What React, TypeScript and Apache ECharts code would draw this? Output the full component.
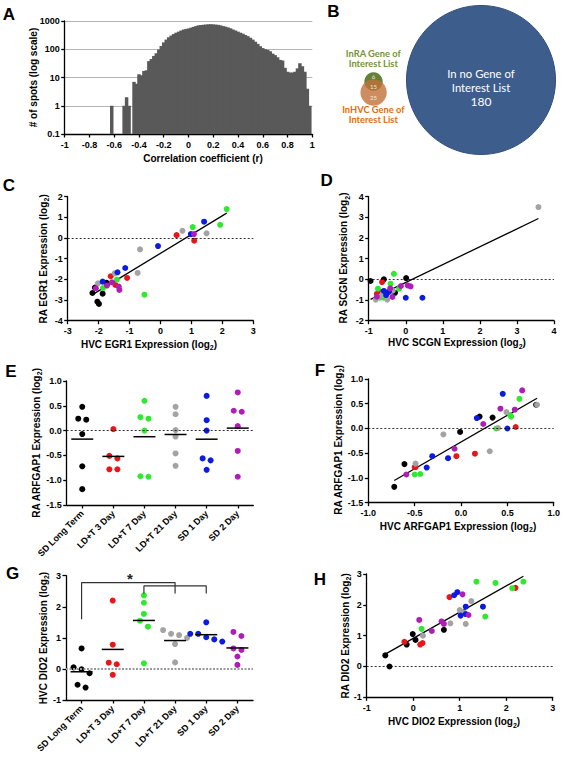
import React, { useEffect, useRef } from 'react';
import * as echarts from 'echarts';

const FONT = "'Liberation Sans', Arial, Helvetica, sans-serif";
const VENN_FONT = "Lato, 'Open Sans', sans-serif";

// ---------- Panel A: histogram of correlation coefficients ----------
const HIST_START = -1;
const HIST_BIN = 0.02;
const HIST_COUNTS = [
  0, 0, 0, 0, 0, 0, 0, 0, 0, 0, 0, 0, 0, 0, 0, 0, 0, 0, 0, 1,
  0, 0, 0, 0, 1, 2, 1, 0, 7, 6, 13, 12, 17, 18, 38, 45, 58, 72, 98, 130,
  175, 220, 265, 305, 345, 385, 420, 460, 500, 520, 545, 580, 620, 660, 700, 720, 735, 750, 765, 770,
  760, 745, 730, 700, 660, 630, 590, 550, 500, 460, 420, 385, 355, 320, 290, 255, 220, 185, 155, 128,
  110, 100, 95, 85, 70, 62, 52, 42, 40, 22, 16, 15, 15, 16, 21, 32, 25, 16, 4, 1, 0,
];
const HIST_Y_TICKS = [0.1, 1, 10, 100, 1000];

// ---------- Panel B: Venn counts ----------
const VENN_RA_ONLY = 6;
const VENN_BOTH = 15;
const VENN_HVC_ONLY = 25;
const VENN_NONE = 180;

// ---------- groups ----------
const GROUPS = ['SD Long Term', 'LD+T 3 Day', 'LD+T 7 Day', 'LD+T 21 Day', 'SD 1 Day', 'SD 2 Day'];
const GROUP_COLORS = ['#000000', '#e8161b', '#2fe82f', '#a3a3a3', '#0b1be0', '#b01cb8'];

// ---------- Panel C: EGR1 ----------
const EGR1_HVC = [
  [-2.2, -1.87, -2.04, -1.99, -1.75, -2.12],
  [0.52, 1.09, -1.08, -1.61, -1.46],
  [2.14, 1.93, 1.04, -0.52, -1.41, -1.86],
  [0.71, 1.49, -0.66, -0.74, -1.48, -2.02],
  [1.41, 0.98, -0.08, -1.14, -1.39, -1.87],
  [1.08, -1.57, -1.35, -1.33, -1.73, -2.09],
];
const EGR1_RA = [
  [-2.66, -2.69, -3.08, -3.19, -2.16, -2.4],
  [0.14, -0.13, -1.93, -1.85, -2.27],
  [1.4, 0.64, 0.53, -2.74, -2.01, -2.42],
  [0.35, 0.23, -0.55, -1.69, -1.71, -2.19],
  [0.79, 0.19, -0.39, -1.45, -1.66, -2.11],
  [0.19, -2.14, -2.35, -2.51, -2.3, -2.43],
];

// ---------- Panel D: SCGN ----------
const SCGN_HVC = [
  [-0.95, -0.59, 0.01, -0.29, -0.72, -0.55],
  [-0.64, -0.72, -0.78, -0.6, -0.68],
  [-0.32, -0.75, -0.41, -0.18, -0.69, -0.59],
  [3.58, -0.81, -0.5, -0.62, -0.35, -0.7],
  [0.0, 0.45, -0.59, -0.53, -0.5, -0.45],
  [0.05, 0.13, -0.13, -0.36, -0.42, -0.78],
];
const SCGN_RA = [
  [-0.08, 0.0, 0.06, -0.65, -0.72, -0.8],
  [-0.13, -0.65, -0.7, -0.75, -0.6],
  [0.27, -0.45, -0.21, -0.45, -0.89, -0.89],
  [3.5, -0.98, -0.98, -0.7, -0.55, -0.85],
  [-0.89, -0.89, -0.56, -0.76, -0.65, -0.6],
  [-0.29, -0.34, -0.32, -0.85, -0.44, -0.84],
];

// ---------- Panels E/F: ARFGAP1 ----------
const ARFGAP1_RA = [
  [0.48, 0.24, 0.22, -0.07, -0.72, -1.18],
  [0.03, -0.51, -0.56, -0.78, -0.78],
  [0.6, 0.24, 0.27, 0.0, -0.93, -0.92],
  [0.48, 0.33, 0.01, -0.12, -0.46, -0.71],
  [0.7, 0.21, 0.0, -0.56, -0.6, -0.79],
  [0.77, 0.4, 0.38, 0.09, -0.41, -0.93],
];
const ARFGAP1_HVC = [
  [0.81, 0.2, 0.34, -0.01, -0.61, -0.72],
  [0.59, 0.15, -0.05, -0.5, -0.49],
  [0.63, 0.54, 0.53, 0.38, -0.5, -0.44],
  [0.82, 0.49, 0.4, -0.19, 0.31, -0.49],
  [0.45, 0.17, 0.5, -0.31, -0.14, -0.37],
  [0.66, 0.425, 0.58, 0.24, -0.07, -0.59],
];

// ---------- Panels G/H: DIO2 ----------
const DIO2_HVC = [
  [0.66, 0.05, -0.01, -0.14, -0.51, -0.6],
  [2.2, 0.78, 0.2, 0.15, -0.19],
  [2.37, 2.13, 1.77, 1.55, 1.36, 0.18],
  [1.25, 1.13, 1.09, 1.0, 0.8, 0.21],
  [1.5, 1.13, 1.13, 1.02, 0.95, 0.88],
  [1.19, 1.06, 0.66, 0.61, 0.4, 0.13],
];
const DIO2_RA = [
  [1.19, 0.86, 1.05, 0.71, 0.0, 0.36],
  [2.55, 2.25, 0.76, 0.71, 0.8],
  [2.75, 2.54, 2.71, 1.62, 2.75, 1.22],
  [2.12, 1.38, 1.75, 1.83, 1.4, 1.0],
  [1.94, 1.94, 1.7, 1.65, 2.41, 2.31],
  [1.67, 2.34, 1.38, 1.46, 1.15, 1.51],
];

// significance bracket in G: [category index, y]
const G_BRACKET_1 = [[0, 1.6], [0, 2.78], [3, 2.78], [3, 2.43]];
const G_BRACKET_2 = [[2, 2.43], [2, 2.67], [4, 2.67], [4, 2.43]];

// ---------- helpers ----------
function fit(xs: number[], ys: number[]) {
  const n = xs.length;
  const mx = xs.reduce((a, b) => a + b, 0) / n;
  const my = ys.reduce((a, b) => a + b, 0) / n;
  let sxy = 0, sxx = 0;
  for (let i = 0; i < n; i++) {
    sxy += (xs[i] - mx) * (ys[i] - my);
    sxx += (xs[i] - mx) * (xs[i] - mx);
  }
  const b = sxy / sxx;
  const a = my - b * mx;
  const x0 = Math.min(...xs), x1 = Math.max(...xs);
  return [[x0, a + b * x0], [x1, a + b * x1]];
}

function jitter(values: number[], pxPerUnit: number, thresh = 6, step = 8) {
  const order = values.map((_, i) => i).sort((a, b) => values[b] - values[a]);
  const off = new Array(values.length).fill(0);
  let cluster: number[] = [];
  const flush = () => {
    const n = cluster.length;
    cluster.forEach((k, j) => { off[k] = (j - (n - 1) / 2) * step; });
    cluster = [];
  };
  order.forEach((k) => {
    if (cluster.length && (values[cluster[cluster.length - 1]] - values[k]) * pxPerUnit >= thresh) flush();
    cluster.push(k);
  });
  flush();
  return off;
}

const AXIS_LINE = { show: true, onZero: false, lineStyle: { color: '#000', width: 1.3 } };
const AXIS_TICK = { show: true, length: 3.5, lineStyle: { color: '#000', width: 1.3 } };
const LABEL = { color: '#000', fontFamily: FONT, fontWeight: 'bold', fontSize: 9 };

function valAxis(gridIndex: number, min: number, max: number, interval: number, isX: boolean, dec = 0) {
  return {
    type: 'value', gridIndex, min, max, interval,
    axisLine: AXIS_LINE, axisTick: AXIS_TICK,
    axisLabel: { ...LABEL, margin: isX ? 6 : 5, formatter: (v: number) => (dec ? v.toFixed(dec) : String(Math.round(v * 10) / 10)) },
    splitLine: { show: false },
  };
}

function catAxis(gridIndex: number) {
  return {
    type: 'category', gridIndex, data: GROUPS, boundaryGap: true,
    axisLine: AXIS_LINE,
    axisTick: { ...AXIS_TICK, alignWithLabel: true },
    axisLabel: { ...LABEL, rotate: 45, interval: 0, margin: 7 },
    splitLine: { show: false },
  };
}

function zeroMark(color = '#000', width = 0.8, type: any = [2, 2]) {
  return {
    silent: true, symbol: ['none', 'none'], label: { show: false },
    lineStyle: { type, color, width }, emphasis: { disabled: true },
    data: [{ yAxis: 0 }],
  };
}

function scatterPanel(gi: number, xs: number[][], ys: number[][]) {
  const allX = xs.flat(), allY = ys.flat();
  const out: any[] = [{
    type: 'line', xAxisIndex: gi, yAxisIndex: gi, data: fit(allX, allY), symbol: 'none',
    lineStyle: { color: '#000', width: 1.3 }, z: 2, silent: true,
    markLine: zeroMark(),
  }];
  GROUPS.forEach((g, k) => {
    out.push({
      type: 'scatter', xAxisIndex: gi, yAxisIndex: gi, name: g,
      data: xs[k].map((x, i) => [x, ys[k][i]]),
      symbolSize: 6, itemStyle: { color: GROUP_COLORS[k], opacity: 1 }, z: 3,
    });
  });
  return out;
}

function columnPanel(gi: number, vals: number[][], pxPerUnit: number, zeroStyle: any) {
  const out: any[] = [];
  GROUPS.forEach((g, k) => {
    const off = jitter(vals[k], pxPerUnit);
    out.push({
      type: 'scatter', xAxisIndex: gi, yAxisIndex: gi, name: g,
      data: vals[k].map((v, i) => ({ value: [k, v], symbolOffset: [off[i], 0] })),
      symbolSize: 6, itemStyle: { color: GROUP_COLORS[k], opacity: 1 }, z: 3,
      markLine: k === 0 ? zeroStyle : undefined,
    });
  });
  out.push({
    type: 'custom', xAxisIndex: gi, yAxisIndex: gi, z: 4, silent: true,
    data: vals.map((v, k) => [k, v.reduce((a, b) => a + b, 0) / v.length]),
    encode: { x: 0, y: 1 },
    renderItem: (_p: any, api: any) => {
      const c = api.coord([api.value(0), api.value(1)]);
      return { type: 'line', shape: { x1: c[0] - 11, y1: c[1], x2: c[0] + 11, y2: c[1] }, style: { stroke: '#000', lineWidth: 1.5 } };
    },
  });
  return out;
}

function letter(t: string, x: number, y: number) {
  return { type: 'text', x, y, style: { text: t, fontFamily: FONT, fontWeight: 'bold', fontSize: 17, fill: '#000', align: 'center', verticalAlign: 'middle' } };
}

function title(x: number, y: number, pre: string, vertical: boolean, sub = true) {
  const rich = {
    t: { fontFamily: FONT, fontWeight: 'bold', fontSize: 10, fill: '#000', color: '#000', lineHeight: 14 },
    s: { fontFamily: FONT, fontWeight: 'bold', fontSize: 7, fill: '#000', color: '#000', lineHeight: 7, verticalAlign: 'bottom' },
  };
  return {
    type: 'text', x, y, rotation: vertical ? Math.PI / 2 : 0,
    style: {
      text: sub ? `{t|${pre} (log}{s|2}{t|)}` : `{t|${pre}}`,
      rich, align: 'center', verticalAlign: 'middle', fill: '#000',
    },
  };
}

function vennText(t: string, x: number, y: number, size: number, color: string, weight = 'normal') {
  return { type: 'text', x, y, style: { text: t, fontFamily: VENN_FONT, fontSize: size, fontWeight: weight, fill: color, align: 'center', verticalAlign: 'middle' } };
}

function buildOption() {
  const grids = [
    { left: 64.7, top: 21, width: 247.6, height: 113 },   // A
    { left: 67.7, top: 196.7, width: 185.6, height: 124 }, // C
    { left: 368.7, top: 196.7, width: 185.3, height: 124 }, // D
    { left: 66.7, top: 381, width: 186.6, height: 124 },   // E
    { left: 368.3, top: 379, width: 186.4, height: 123.7 }, // F
    { left: 66, top: 575.7, width: 187, height: 124.3 },   // G
    { left: 366.7, top: 574, width: 186, height: 123.3 },  // H
  ];

  const xAxis = [
    { ...valAxis(0, -1, 1, 0.2, true), axisLabel: { ...LABEL, margin: 6, formatter: (v: number) => String(Math.round(v * 10) / 10) } },
    valAxis(1, -3, 3, 1, true),
    valAxis(2, -1, 4, 1, true),
    catAxis(3),
    valAxis(4, -1, 1, 0.5, true, 1),
    catAxis(5),
    valAxis(6, -1, 3, 1, true),
  ];
  const yAxis = [
    {
      type: 'log', gridIndex: 0, logBase: 10, min: 0.1, max: 1000,
      axisLine: AXIS_LINE, axisTick: AXIS_TICK,
      axisLabel: { ...LABEL, margin: 5, formatter: (v: number) => (v < 1 ? '0.1' : String(Math.round(v))) },
      splitLine: { show: true, lineStyle: { color: '#b5b5b5', width: 1 } },
    },
    valAxis(1, -4, 2, 1, false),
    valAxis(2, -2, 4, 1, false),
    valAxis(3, -1.5, 1, 0.5, false, 1),
    valAxis(4, -1.5, 1, 0.5, false, 1),
    valAxis(5, -1, 3, 1, false),
    valAxis(6, -1, 3, 1, false),
  ];

  const histData = HIST_COUNTS
    .map((c, i) => [HIST_START + i * HIST_BIN, c])
    .filter((d) => d[1] > 0);

  const series: any[] = [
    {
      type: 'custom', xAxisIndex: 0, yAxisIndex: 0, data: histData, encode: { x: 0, y: 1 }, silent: true,
      renderItem: (_p: any, api: any) => {
        const x = api.value(0), v = api.value(1);
        const tl = api.coord([x - HIST_BIN / 2, v]);
        const br = api.coord([x + HIST_BIN / 2, HIST_Y_TICKS[0]]);
        return {
          type: 'rect',
          shape: { x: tl[0] - 0.5, y: tl[1], width: br[0] - tl[0] + 1, height: br[1] - tl[1] },
          style: { fill: '#595959' },
        };
      },
    },
    ...scatterPanel(1, EGR1_HVC, EGR1_RA),
    ...scatterPanel(2, SCGN_HVC, SCGN_RA),
    ...columnPanel(3, ARFGAP1_RA, 124 / 2.5, zeroMark()),
    ...scatterPanel(4, ARFGAP1_HVC, ARFGAP1_RA),
    ...columnPanel(5, DIO2_HVC, 124.3 / 4, zeroMark('#9a9a9a', 1.8, [2, 1.5])),
    ...scatterPanel(6, DIO2_HVC, DIO2_RA),
    { type: 'line', xAxisIndex: 5, yAxisIndex: 5, data: G_BRACKET_1, symbol: 'none', lineStyle: { color: '#333', width: 1.2 }, silent: true, z: 5 },
    { type: 'line', xAxisIndex: 5, yAxisIndex: 5, data: G_BRACKET_2, symbol: 'none', lineStyle: { color: '#333', width: 1.2 }, silent: true, z: 5 },
  ];

  const graphic: any[] = [
    letter('A', 9, 14.5), letter('B', 333.5, 11.7), letter('C', 9, 185), letter('D', 326.7, 180),
    letter('E', 11, 371.7), letter('F', 320, 370), letter('G', 12.5, 573), letter('H', 320, 579),
    title(33.5, 77.5, '# of spots (log scale)', true, false),
    title(203, 158, 'Correlation coefficient (r)', false, false),
    title(43, 259, 'RA EGR1 Expression', true),
    title(149, 344.3, 'HVC EGR1 Expression', false),
    title(343.5, 258, 'RA SCGN Expression', true),
    title(457, 342.7, 'HVC SCGN Expression', false),
    title(36, 443, 'RA ARFGAP1 Expression', true),
    title(338, 440, 'RA ARFGAP1 Expression', true),
    title(458, 526, 'HVC ARFGAP1 Expression', false),
    title(43, 638, 'HVC DIO2 Expression', true),
    title(345, 636, 'RA DIO2 Expression', true),
    title(454, 721.7, 'HVC DIO2 Expression', false),
    { type: 'text', x: 130, y: 578, style: { text: '*', fontFamily: FONT, fontSize: 15, fontWeight: 'bold', fill: '#222', align: 'center', verticalAlign: 'middle' } },
    // Venn diagram
    { type: 'circle', shape: { cx: 481, cy: 80, r: 74.5 }, style: { fill: '#3d5d8c', stroke: '#34507a', lineWidth: 1 } },
    vennText('In no Gene of', 481, 73.5, 11.3, '#ffffff'),
    vennText('Interest List', 481, 87.5, 11.3, '#ffffff'),
    vennText(String(VENN_NONE), 481, 101.5, 12, '#ffffff'),
    { type: 'circle', shape: { cx: 373.5, cy: 81.5, r: 9.2 }, style: { fill: '#62823a' } },
    { type: 'circle', shape: { cx: 373.6, cy: 92.5, r: 13.2 }, style: { fill: 'rgba(192,112,58,0.8)' } },
    vennText(String(VENN_RA_ONLY), 373.5, 76, 6, '#f3ead8'),
    vennText(String(VENN_BOTH), 373.5, 86.5, 6, '#f3ead8'),
    vennText(String(VENN_HVC_ONLY), 373.5, 97.5, 6, '#f3ead8'),
    vennText('InRA Gene of', 373.3, 53.3, 9.3, '#76923c', 'bold'),
    vennText('Interest List', 373.3, 63.5, 9.3, '#76923c', 'bold'),
    vennText('InHVC Gene of', 373.3, 109, 9.3, '#e36c0a', 'bold'),
    vennText('Interest List', 373.3, 119.5, 9.3, '#e36c0a', 'bold'),
  ];

  return {
    animation: false,
    backgroundColor: '#ffffff',
    textStyle: { fontFamily: FONT },
    grid: grids,
    xAxis,
    yAxis,
    series,
    graphic,
  };
}

export default function App() {
  const ref = useRef<HTMLDivElement>(null);
  useEffect(() => {
    if (!ref.current) return;
    const chart = echarts.init(ref.current, null, { renderer: 'svg' });
    chart.setOption(buildOption() as any);
    return () => chart.dispose();
  }, []);
  return <div ref={ref} style={{ position: 'absolute', left: 0, top: 0, width: 563, height: 760, background: '#fff' }} />;
}
